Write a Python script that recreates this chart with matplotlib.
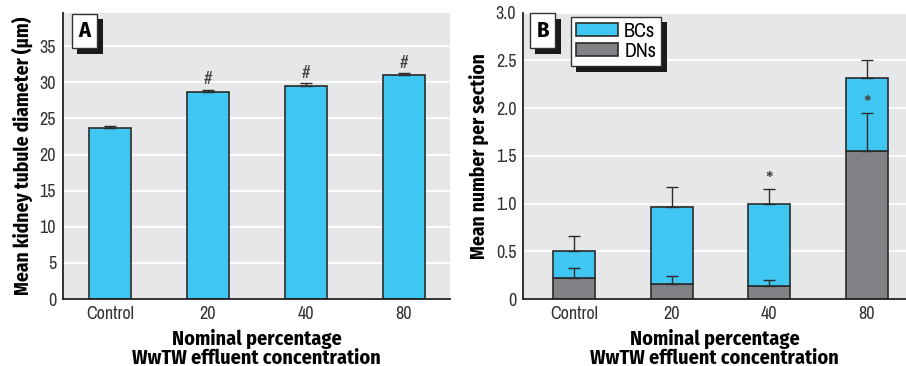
import numpy as np
import matplotlib
matplotlib.use("Agg")
import matplotlib.pyplot as plt
import matplotlib.patheffects as pe

plt.rcParams['font.family'] = ['Archivo Narrow', 'DejaVu Sans']
bold_fam = ['Fira Sans Condensed', 'Barlow Condensed', 'PT Sans Narrow',
            'Saira SemiCondensed', 'Archivo Narrow', 'DejaVu Sans']

# data
groups = ["Control", "20", "40", "80"]
diam = [23.7, 28.6, 29.5, 31.05]
diam_err = [0.2, 0.4, 0.35, 0.25]
total = [0.505, 0.965, 1.0, 2.31]
total_err = [0.16, 0.21, 0.15, 0.19]
dns = [0.225, 0.155, 0.135, 1.555]
dns_err = [0.10, 0.09, 0.065, 0.39]
marks_a = ["", "#", "#", "#"]
marks_b = ["", "", "*", "*"]

cyan = "#40c7f1"
grey = "#818285"
edge = "#2b2b2b"
bg = "#e6e7e8"

fig = plt.figure(figsize=(9.06, 3.66), dpi=100)
axA = fig.add_axes([0.0695, 0.183, 0.4272, 0.7815])
axB = fig.add_axes([0.5776, 0.183, 0.4224, 0.7825])

x = np.arange(len(groups))
w = 0.43
shadow = [pe.SimplePatchShadow(offset=(4, -4), shadow_rgbFace="#1a1a1a", alpha=1), pe.Normal()]

def style(ax):
    ax.set_facecolor(bg)
    for s in ["top", "right"]:
        ax.spines[s].set_visible(False)
    for s in ["left", "bottom"]:
        ax.spines[s].set_linewidth(1.3)
        ax.spines[s].set_color("#222222")
    ax.tick_params(length=0, labelsize=13, pad=5, colors="#333333")
    ax.yaxis.grid(True, color="white", lw=1.3)
    ax.set_axisbelow(True)
    ax.set_xticks(x)
    ax.set_xticklabels(groups)
    ax.set_xlabel("Nominal percentage\nWwTW effluent concentration", family=bold_fam,
                  fontsize=14.5, fontweight="bold", linespacing=0.95, labelpad=5)

# panel A
style(axA)
axA.bar(x, diam, w, color=cyan, edgecolor=edge, lw=1.2, zorder=2)
axA.errorbar(x, diam, yerr=[np.zeros(4), diam_err], fmt="none", ecolor=edge,
             elinewidth=1, capsize=4, capthick=1, zorder=3)
for xi, v, e, m in zip(x, diam, diam_err, marks_a):
    if m:
        axA.text(xi, v + e + 1.4, m, ha="center", va="center", fontsize=13,
                 color="#444444", style="italic")
axA.set_xlim(-0.48, 3.47)
axA.set_ylim(0, 39.6)
axA.set_yticks(range(0, 36, 5))
axA.set_ylabel("Mean kidney tubule diameter (\u03bcm)", family=bold_fam, fontsize=14,
               fontweight="bold", labelpad=5)
t = axA.text(0.04, 0.937, "A", transform=axA.transAxes, family=bold_fam, fontsize=16,
             fontweight="bold", ha="left", va="center",
             bbox=dict(boxstyle="square,pad=0.3", fc="white", ec="#333333", lw=1))
t.get_bbox_patch().set_path_effects(shadow)

# panel B
style(axB)
bc = [t_ - d for t_, d in zip(total, dns)]
axB.bar(x, dns, w, color=grey, edgecolor=edge, lw=1.2, zorder=2, label="DNs")
axB.bar(x, bc, w, bottom=dns, color=cyan, edgecolor=edge, lw=1.2, zorder=2, label="BCs")
axB.errorbar(x, total, yerr=[np.zeros(4), total_err], fmt="none", ecolor=edge,
             elinewidth=1, capsize=4, capthick=1, zorder=3)
axB.errorbar(x, dns, yerr=[np.zeros(4), dns_err], fmt="none", ecolor=edge,
             elinewidth=1, capsize=4, capthick=1, zorder=3)
for xi, v, e, m in zip(x, total, total_err, marks_b):
    if m:
        y = v + e + 0.08 if xi == 2 else 2.03
        axB.text(xi, y, m, ha="center", va="center", fontsize=17, color="#444444")
axB.set_xlim(-0.517, 3.4)
axB.set_ylim(0, 3.0)
axB.set_yticks([0, 0.5, 1.0, 1.5, 2.0, 2.5, 3.0])
axB.set_yticklabels(["0", "0.5", "1.0", "1.5", "2.0", "2.5", "3.0"])
axB.set_ylabel("Mean number per section", family=bold_fam, fontsize=14,
               fontweight="bold", labelpad=5)
t = axB.text(0.034, 0.937, "B", transform=axB.transAxes, family=bold_fam, fontsize=16,
             fontweight="bold", ha="left", va="center",
             bbox=dict(boxstyle="square,pad=0.3", fc="white", ec="#333333", lw=1))
t.get_bbox_patch().set_path_effects(shadow)
h, l = axB.get_legend_handles_labels()
leg = axB.legend(h[::-1], l[::-1], loc="upper left", bbox_to_anchor=(0.124, 0.985),
                 prop={"family": plt.rcParams['font.family'], "size": 14.5},
                 frameon=True, fancybox=False, edgecolor="#333333",
                 framealpha=1, handlelength=2.1, handleheight=0.6, borderpad=0.25,
                 labelspacing=0.05, handletextpad=0.3, borderaxespad=0)
leg.get_frame().set_linewidth(1)
leg.get_frame().set_path_effects(shadow)

fig.savefig("out.png", dpi=100)
